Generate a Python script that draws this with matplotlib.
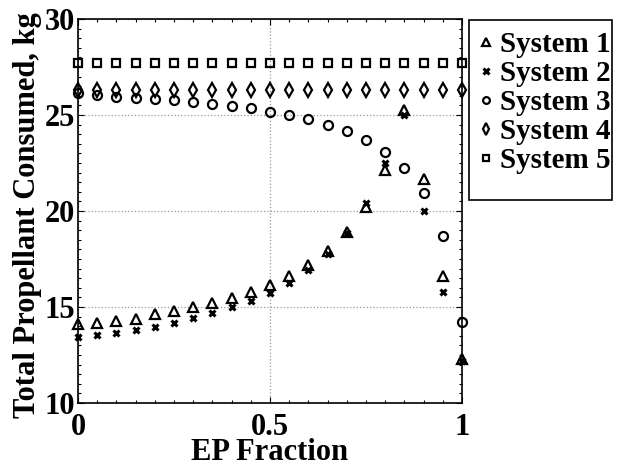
import matplotlib
matplotlib.use("Agg")
import matplotlib.pyplot as plt
from matplotlib.patches import Rectangle
from matplotlib.ticker import MultipleLocator

plt.rcParams["font.family"] = ["Liberation Serif", "DejaVu Serif"]
plt.rcParams["font.weight"] = "bold"

ep_fraction = [i * 0.05 for i in range(21)]

system1 = [14.1, 14.18, 14.29, 14.38, 14.62, 14.79, 14.98, 15.19, 15.48, 15.8,
           16.16, 16.61, 17.19, 17.93, 18.9, 20.22, 22.14, 25.26, 21.65, 16.61, 12.27]
system2 = [13.42, 13.54, 13.66, 13.8, 13.98, 14.18, 14.41, 14.67, 14.98, 15.31,
           15.75, 16.27, 16.93, 17.76, 18.84, 20.4, 22.52, 25.0, 20.02, 15.78, 12.2]
system3 = [26.14, 26.04, 25.95, 25.9, 25.82, 25.77, 25.69, 25.57, 25.47, 25.35,
           25.17, 25.0, 24.78, 24.5, 24.15, 23.7, 23.09, 22.22, 20.92, 18.7, 14.23]
system4 = [26.3] * 21
system5 = [27.7] * 21

labels = ["System 1", "System 2", "System 3", "System 4", "System 5"]

W, H = 621, 466
fig = plt.figure(figsize=(W / 100, H / 100), dpi=100)
ax = fig.add_axes([78 / W, 63 / H, 384 / W, 384 / H])

style = dict(linestyle="none", color="black", markerfacecolor="none",
             markeredgewidth=1.6, clip_on=False)
ax.plot(ep_fraction, system1, marker="^", markersize=7.5, label=labels[0], **style)
ax.plot(ep_fraction, system2, marker="x", markersize=5, label=labels[1],
        linestyle="none", color="black", markeredgewidth=2.2, clip_on=False)
ax.plot(ep_fraction, system3, marker="o", markersize=6.5, label=labels[2], **style)
ax.plot(ep_fraction, system4, marker="d", markersize=7.5, label=labels[3], **style)
ax.plot(ep_fraction, system5, marker="s", markersize=5.5, label=labels[4], **style)

ax.set_xlim(0, 1)
ax.set_ylim(10, 30)
ax.xaxis.set_minor_locator(MultipleLocator(0.05))
ax.yaxis.set_major_locator(MultipleLocator(5))
ax.yaxis.set_minor_locator(MultipleLocator(0.5))
ax.set_xticks([0, 0.5, 1])
ax.set_xticklabels(["0", "0.5", "1"])
ax.tick_params(which="both", direction="in", top=True, right=True,
               labelsize=22, width=0.8)
ax.tick_params(which="major", length=4)
ax.tick_params(which="minor", length=2.5)
ax.tick_params(axis="x", which="major", pad=7)
ax.tick_params(axis="y", which="major", pad=2)
ax.grid(True, which="major", linestyle=":", color="#999999", linewidth=0.9)
for spine in ax.spines.values():
    spine.set_linewidth(1.2)

ax.set_xlabel("EP Fraction", fontsize=22, fontweight="bold", labelpad=-3)
ax.set_ylabel("Total Propellant Consumed, kg", fontsize=22, fontweight="bold")
ax.yaxis.set_label_coords(-0.094, 0.49)

# legend entries without their own frame; the box is drawn separately
leg = fig.legend(loc="upper left", bbox_to_anchor=(469 / W, 1 - 20 / H),
                 fontsize=21, markerscale=0.75, handlelength=0.40,
                 handletextpad=0.27, labelspacing=0.07, borderpad=0.38,
                 borderaxespad=0, frameon=False)
fig.patches.append(Rectangle((469 / W, 1 - 200 / H), 143 / W, 180 / H,
                             transform=fig.transFigure, fill=False,
                             edgecolor="black", linewidth=1.2))

fig.savefig("out.png", dpi=100)
